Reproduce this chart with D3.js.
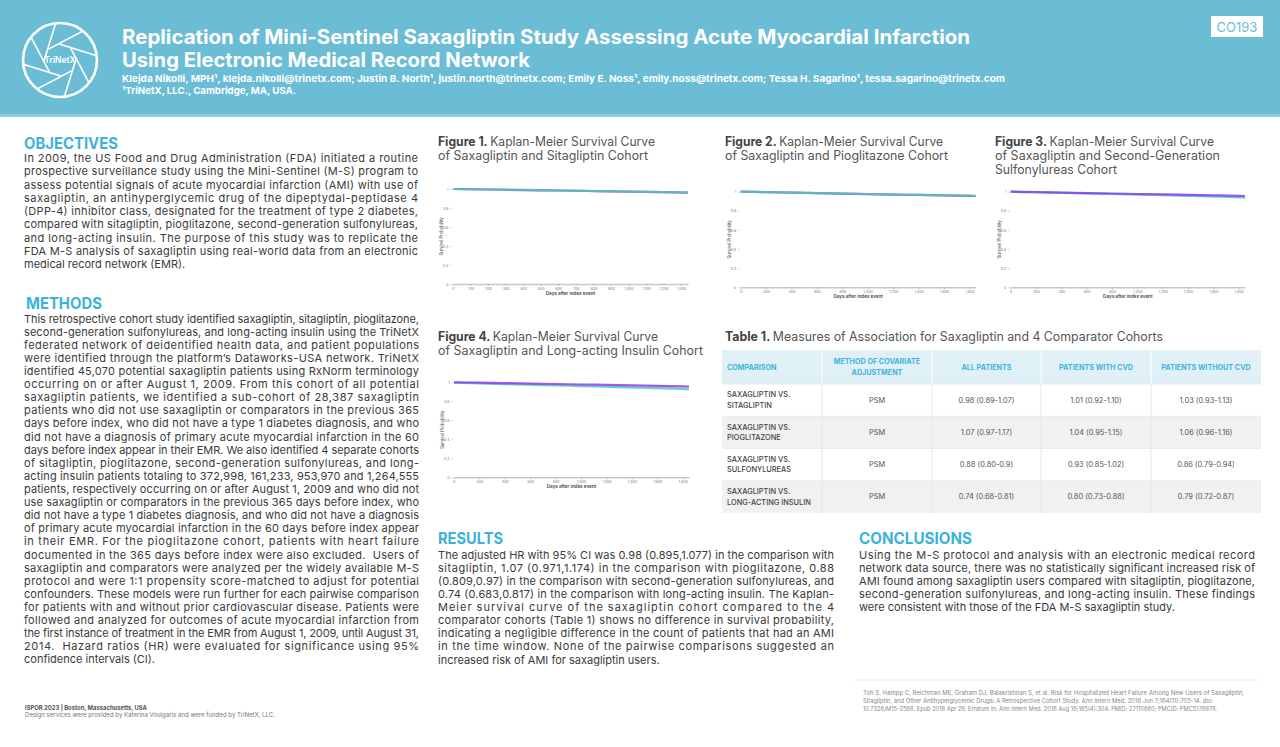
<!DOCTYPE html>
<html><head><meta charset="utf-8">
<script src="https://cdn.jsdelivr.net/npm/d3@7"></script>
<style>body{margin:0;background:#fff}svg{display:block}text{font-family:Inter,"Open Sans",sans-serif}</style>
</head><body><svg id="c" width="1280" height="747"></svg>
<script>
// ---------- DATA ----------
const fig1Days = [0, 200, 400, 600, 800, 1000, 1200, 1340];
const fig1Saxagliptin = [1, 0.995, 0.989, 0.984, 0.978, 0.972, 0.967, 0.962];
const fig1Sitagliptin = [1, 0.995, 0.990, 0.985, 0.979, 0.973, 0.968, 0.963];

const figDays = [0, 200, 400, 600, 800, 1000, 1200, 1400, 1600, 1800, 1850];
const fig2Saxagliptin = [1, 0.995, 0.990, 0.985, 0.980, 0.975, 0.970, 0.966, 0.961, 0.957, 0.955];
const fig2Pioglitazone = [1, 0.996, 0.991, 0.986, 0.981, 0.976, 0.971, 0.966, 0.962, 0.958, 0.956];
const fig3Saxagliptin = [1, 0.996, 0.991, 0.986, 0.981, 0.976, 0.971, 0.967, 0.962, 0.957, 0.955];
const fig3Sulfonylureas = [1, 0.994, 0.988, 0.982, 0.976, 0.970, 0.963, 0.956, 0.949, 0.941, 0.938];
const fig4Saxagliptin = [1, 0.996, 0.992, 0.987, 0.982, 0.977, 0.972, 0.967, 0.962, 0.957, 0.955];
const fig4Insulin = [0.996, 0.988, 0.981, 0.974, 0.967, 0.960, 0.953, 0.946, 0.938, 0.930, 0.924];

const fig1XTicks = [0,100,200,300,400,500,600,700,800,900,1000,1100,1200,1300];
const figXTicks = [0,200,400,600,800,1000,1200,1400,1600,1800];
const yTickValues = [0, 0.2, 0.4, 0.6, 0.8, 1];
const yTickLabels = ["0", "0.2", "0.4", "0.6", "0.8", "1"];

const tableHeaders = ["COMPARISON", "METHOD OF COVARIATE|ADJUSTMENT", "ALL PATIENTS", "PATIENTS WITH CVD", "PATIENTS WITHOUT CVD"];
const tableComparisons = ["SAXAGLIPTIN VS.|SITAGLIPTIN", "SAXAGLIPTIN VS.|PIOGLITAZONE", "SAXAGLIPTIN VS.|SULFONYLUREAS", "SAXAGLIPTIN VS.|LONG-ACTING INSULIN"];
const tableMethods = ["PSM", "PSM", "PSM", "PSM"];
const tableAllPatients = ["0.98 (0.89-1.07)", "1.07 (0.97-1.17)", "0.88 (0.80-0.9)", "0.74 (0.68-0.81)"];
const tableWithCVD = ["1.01 (0.92-1.10)", "1.04 (0.95-1.15)", "0.93 (0.85-1.02)", "0.80 (0.73-0.88)"];
const tableWithoutCVD = ["1.03 (0.93-1.13)", "1.06 (0.96-1.16)", "0.86 (0.79-0.94)", "0.79 (0.72-0.87)"];

// ---------- TEXT ----------
const objectivesLines = [
"In 2009, the US Food and Drug Administration (FDA) initiated a routine",
"prospective surveillance study using the Mini-Sentinel (M-S) program to",
"assess potential signals of acute myocardial infarction (AMI) with use of",
"saxagliptin, an antihyperglycemic drug of the dipeptydal-peptidase 4",
"(DPP-4) inhibitor class, designated for the treatment of type 2 diabetes,",
"compared with sitagliptin, pioglitazone, second-generation sulfonylureas,",
"and long-acting insulin. The purpose of this study was to replicate the",
"FDA M-S analysis of saxagliptin using real-world data from an electronic",
"medical record network (EMR)."];
const methodsLines = [
"This retrospective cohort study identified saxagliptin, sitagliptin, pioglitazone,",
"second-generation sulfonylureas, and long-acting insulin using the TriNetX",
"federated network of deidentified health data, and patient populations",
"were identified through the platform’s Dataworks-USA network. TriNetX",
"identified 45,070 potential saxagliptin patients using RxNorm terminology",
"occurring on or after August 1, 2009. From this cohort of all potential",
"saxagliptin patients, we identified a sub-cohort of 28,387 saxagliptin",
"patients who did not use saxagliptin or comparators in the previous 365",
"days before index, who did not have a type 1 diabetes diagnosis, and who",
"did not have a diagnosis of primary acute myocardial infarction in the 60",
"days before index appear in their EMR. We also identified 4 separate cohorts",
"of sitagliptin, pioglitazone, second-generation sulfonylureas, and long-",
"acting insulin patients totaling to 372,998, 161,233, 953,970 and 1,264,555",
"patients, respectively occurring on or after August 1, 2009 and who did not",
"use saxagliptin or comparators in the previous 365 days before index, who",
"did not have a type 1 diabetes diagnosis, and who did not have a diagnosis",
"of primary acute myocardial infarction in the 60 days before index appear",
"in their EMR. For the pioglitazone cohort, patients with heart failure",
"documented in the 365 days before index were also excluded.  Users of",
"saxagliptin and comparators were analyzed per the widely available M-S",
"protocol and were 1:1 propensity score-matched to adjust for potential",
"confounders. These models were run further for each pairwise comparison",
"for patients with and without prior cardiovascular disease. Patients were",
"followed and analyzed for outcomes of acute myocardial infarction from",
"the first instance of treatment in the EMR from August 1, 2009, until August 31,",
"2014.  Hazard ratios (HR) were evaluated for significance using 95%",
"confidence intervals (CI)."];
const resultsLines = [
"The adjusted HR with 95% CI was 0.98 (0.895,1.077) in the comparison with",
"sitagliptin, 1.07 (0.971,1.174) in the comparison with pioglitazone, 0.88",
"(0.809,0.97) in the comparison with second-generation sulfonylureas, and",
"0.74 (0.683,0.817) in the comparison with long-acting insulin. The Kaplan-",
"Meier survival curve of the saxagliptin cohort compared to the 4",
"comparator cohorts (Table 1) shows no difference in survival probability,",
"indicating a negligible difference in the count of patients that had an AMI",
"in the time window. None of the pairwise comparisons suggested an",
"increased risk of AMI for saxagliptin users."];
const conclusionsLines = [
"Using the M-S protocol and analysis with an electronic medical record",
"network data source, there was no statistically significant increased risk of",
"AMI found among saxagliptin users compared with sitagliptin, pioglitazone,",
"second-generation sulfonylureas, and long-acting insulin. These findings",
"were consistent with those of the FDA M-S saxagliptin study."];
const referenceLines = [
"Toh S, Hampp C, Reichman ME, Graham DJ, Balakrishnan S, et al. Risk for Hospitalized Heart Failure Among New Users of Saxagliptin,",
"Sitagliptin, and Other Antihyperglycemic Drugs: A Retrospective Cohort Study. Ann Intern Med. 2016 Jun 7;164(11):705-14. doi:",
"10.7326/M15-2568. Epub 2016 Apr 26. Erratum in: Ann Intern Med. 2016 Aug 16;165(4):304. PMID: 27110660; PMCID: PMC5178978."];

// ---------- DRAW ----------
const svg = d3.select("#c");
const BLUE = "#6bbdd6", HEAD = "#3db2d9", BODY = "#3a3a3a", PURPLE = "#8a3cf5", TEAL = "#55c6b2";

// header
svg.append("rect").attr("x",0).attr("y",0).attr("width",1280).attr("height",117).attr("fill",BLUE);
svg.append("rect").attr("x",0).attr("y",114).attr("width",1280).attr("height",3).attr("fill","#8fcfe3");

// logo
const logo = svg.append("g").attr("transform","translate(60,60)");
const R = 37, ri = 15, phi = Math.acos(ri/R);
logo.append("circle").attr("r",R).attr("fill","none").attr("stroke","#fff").attr("stroke-width",2.6);
d3.range(8).forEach(i=>{
  const t = i*Math.PI/4 + 0.3;
  const a = t + phi, b = t - Math.PI/8, rb = ri/Math.cos(Math.PI/8);
  logo.append("line").attr("x1",R*Math.cos(a)).attr("y1",R*Math.sin(a))
    .attr("x2",rb*Math.cos(b)).attr("y2",rb*Math.sin(b))
    .attr("stroke","#fff").attr("stroke-width",1.6);
});
logo.append("text").attr("text-anchor","middle").attr("y",3).attr("fill","#fff")
  .style("font-size","8.5px").style("font-weight",600).text("TriNetX");

function fitText(sel, w, adj){ sel.attr("textLength", w).attr("lengthAdjust", adj||"spacingAndGlyphs"); return sel; }

fitText(svg.append("text").attr("x",122).attr("y",44).attr("fill","#fff").style("font-size","19.5px").style("font-weight",700)
  .text("Replication of Mini-Sentinel Saxagliptin Study Assessing Acute Myocardial Infarction"), 848);
fitText(svg.append("text").attr("x",122).attr("y",67).attr("fill","#fff").style("font-size","19.5px").style("font-weight",700)
  .text("Using Electronic Medical Record Network"), 408);
fitText(svg.append("text").attr("x",122).attr("y",81.5).attr("fill","#fff").style("font-size","9.6px").style("font-weight",700)
  .text("Klejda Nikolli, MPH¹, klejda.nikolli@trinetx.com; Justin B. North¹, justin.north@trinetx.com; Emily E. Noss¹, emily.noss@trinetx.com; Tessa H. Sagarino¹, tessa.sagarino@trinetx.com"), 883);
fitText(svg.append("text").attr("x",122).attr("y",93.5).attr("fill","#fff").style("font-size","9.6px").style("font-weight",700)
  .text("¹TriNetX, LLC., Cambridge, MA, USA."), 174);

svg.append("rect").attr("x",1211).attr("y",16).attr("width",52).attr("height",21).attr("fill","#fff");
svg.append("text").attr("x",1237).attr("y",31.5).attr("text-anchor","middle").attr("fill",BLUE)
  .style("font-size","13px").text("CO193");

// headings
function heading(txt,x,y,w){ fitText(svg.append("text").attr("x",x).attr("y",y).attr("fill",HEAD)
  .style("font-size","15.5px").style("font-weight",700).text(txt), w); }
heading("OBJECTIVES",24,148.5,94);
heading("METHODS",26,309,76);
heading("RESULTS",438,544,65);
heading("CONCLUSIONS",859,544,113);

// paragraphs
function para(lines,x,y0,lh,w){
  const g = svg.append("g");
  lines.forEach((l,i)=>{
    const t = g.append("text").attr("x",x).attr("y",y0+i*lh).attr("fill",BODY)
      .style("font-size","11px").attr("xml:space","preserve").text(l);
    if(i<lines.length-1) t.attr("textLength",w).attr("lengthAdjust","spacing");
  });
}
para(objectivesLines,24,162,13.25,394);
para(methodsLines,24,322.5,13.115,395);
para(resultsLines,438,558.5,13.125,396);
para(conclusionsLines,859,558.5,13.1,396);

// figure titles
function figTitle(bold,lines,x,y0,widths){
  lines.forEach((l,i)=>{
    const t = svg.append("text").attr("x",x).attr("y",y0+i*14).attr("fill","#555").style("font-size","12.6px");
    if(i===0 && bold){ t.append("tspan").style("font-weight",700).attr("fill","#444").text(bold+" "); }
    t.append("tspan").text(l);
    fitText(t, widths[i]);
  });
}
figTitle("Figure 1.",["Kaplan-Meier Survival Curve","of Saxagliptin and Sitagliptin Cohort"],438,145.5,[217,210]);
figTitle("Figure 2.",["Kaplan-Meier Survival Curve","of Saxagliptin and Pioglitazone Cohort"],725,145.5,[218,223]);
figTitle("Figure 3.",["Kaplan-Meier Survival Curve","of Saxagliptin and Second-Generation","Sulfonylureas Cohort"],995,145.5,[219,225,122]);
figTitle("Figure 4.",["Kaplan-Meier Survival Curve","of Saxagliptin and Long-acting Insulin Cohort"],438,340.5,[220,265]);
figTitle("Table 1.",["Measures of Association for Saxagliptin and 4 Comparator Cohorts"],725,340.5,[438]);

// KM plots
function kmPlot(o){
  const x = d3.scaleLinear().domain([0,o.xmax]).range([o.x0,o.x1]);
  const y = d3.scaleLinear().domain([0,1]).range([o.y0,o.y1]);
  const g = svg.append("g");
  const ya = g.append("g").attr("transform",`translate(${o.x0-1},0)`)
    .call(d3.axisLeft(y).tickValues(yTickValues).tickFormat((d,i)=>yTickLabels[i]).tickSize(1.5).tickPadding(2));
  ya.select(".domain").remove();
  ya.selectAll("line").attr("stroke","#999").attr("stroke-width",0.5);
  ya.selectAll("text").style("font-size","3.6px").attr("fill","#777");
  const xa = g.append("g").attr("transform",`translate(0,${o.y0})`)
    .call(d3.axisBottom(x).tickValues(o.ticks).tickSize(2).tickPadding(1.5).tickSizeOuter(0));
  xa.select(".domain").attr("stroke","#c8c8c8").attr("stroke-width",1.6);
  xa.selectAll("line").attr("stroke","#999").attr("stroke-width",0.5);
  xa.selectAll("text").style("font-size","3.6px").attr("fill","#777");
  g.append("text").attr("x",(o.x0+o.x1)/2).attr("y",o.y0+11).attr("text-anchor","middle")
    .attr("fill","#444").style("font-size","4.6px").style("font-weight",600).text("Days after index event");
  g.append("text").attr("transform",`translate(${o.x0-10},${(o.y0+o.y1)/2}) rotate(-90)`).attr("text-anchor","middle")
    .attr("fill","#555").style("font-size","4.2px").text("Survival Probability");
  const line = d3.line().x(d=>x(d[0])).y(d=>y(d[1])).curve(d3.curveMonotoneX);
  o.series.forEach(s=>{
    g.append("path").datum(o.days.map((d,i)=>[d,s.v[i]])).attr("d",line)
      .attr("fill","none").attr("stroke",s.c).attr("stroke-width",2.2).attr("stroke-opacity",0.85);
  });
}
kmPlot({x0:453,x1:688,y0:284,y1:189,xmax:1340,ticks:fig1XTicks,days:fig1Days,
  series:[{v:fig1Saxagliptin,c:PURPLE},{v:fig1Sitagliptin,c:TEAL}]});
kmPlot({x0:740.7,x1:975.7,y0:287.3,y1:191.7,xmax:1850,ticks:figXTicks,days:figDays,
  series:[{v:fig2Saxagliptin,c:PURPLE},{v:fig2Pioglitazone,c:TEAL}]});
kmPlot({x0:1010.7,x1:1245,y0:287.3,y1:191.7,xmax:1850,ticks:figXTicks,days:figDays,
  series:[{v:fig3Sulfonylureas,c:TEAL},{v:fig3Saxagliptin,c:PURPLE}]});
kmPlot({x0:454,x1:689,y0:477.3,y1:382.3,xmax:1850,ticks:figXTicks,days:figDays,
  series:[{v:fig4Insulin,c:TEAL},{v:fig4Saxagliptin,c:PURPLE}]});

// table
const colEdges = [722, 822, 932, 1041, 1151, 1261];
const rowY = d3.scaleBand().domain(d3.range(4)).range([384,513]);
const tg = svg.append("g");
tg.append("rect").attr("x",722).attr("y",350).attr("width",539).attr("height",34).attr("fill","#dff0f6");
d3.range(4).forEach(i=>{
  tg.append("rect").attr("x",722).attr("y",rowY(i)).attr("width",539).attr("height",rowY.bandwidth())
    .attr("fill", i%2 ? "#f1f1f1" : "#fff");
  tg.append("line").attr("x1",722).attr("x2",1261).attr("y1",rowY(i)).attr("y2",rowY(i)).attr("stroke","#e6e6e6").attr("stroke-width",0.8);
});
colEdges.slice(1,-1).forEach(cx=>{
  tg.append("line").attr("x1",cx).attr("x2",cx).attr("y1",350).attr("y2",384).attr("stroke","#fff").attr("stroke-width",1);
  tg.append("line").attr("x1",cx).attr("x2",cx).attr("y1",384).attr("y2",513).attr("stroke","#e3e3e3").attr("stroke-width",0.8);
});
function cellText(txt, col, cy, color, size, weight){
  const parts = txt.split("|");
  const left = col===0;
  const xx = left ? colEdges[0]+5 : (colEdges[col]+colEdges[col+1])/2;
  parts.forEach((p,k)=>{
    tg.append("text").attr("x",xx).attr("y",cy + (k-(parts.length-1)/2)*10.5 + 2.6)
      .attr("text-anchor", left ? "start" : "middle").attr("fill",color)
      .style("font-size",size).style("font-weight",weight).text(p);
  });
}
tableHeaders.forEach((h,c)=>cellText(h,c,367,"#42b4da","7.2px",700));
const tableCols = [tableComparisons, tableMethods, tableAllPatients, tableWithCVD, tableWithoutCVD];
d3.range(4).forEach(r=>{
  const cy = rowY(r)+rowY.bandwidth()/2;
  tableCols.forEach((col,c)=>cellText(col[r],c,cy,c===0?"#444":"#555","7.4px",c===0?500:400));
});

// footer
fitText(svg.append("text").attr("x",25).attr("y",709.5).attr("fill","#555").style("font-size","6px").style("font-weight",700)
  .text("ISPOR 2023 | Boston, Massachusetts, USA"),122);
fitText(svg.append("text").attr("x",25).attr("y",717).attr("fill","#777").style("font-size","6px")
  .text("Design services were provided by Katerina Voulgaris and were funded by TriNetX, LLC."),250);
svg.append("line").attr("x1",855).attr("x2",1258).attr("y1",680).attr("y2",680).attr("stroke","#e6e6e6");
const refW = [381, 350, 354];
referenceLines.forEach((l,i)=>{
  fitText(svg.append("text").attr("x",863).attr("y",695+i*8).attr("fill","#888").style("font-size","5.6px").text(l), refW[i]);
});
</script></body></html>
